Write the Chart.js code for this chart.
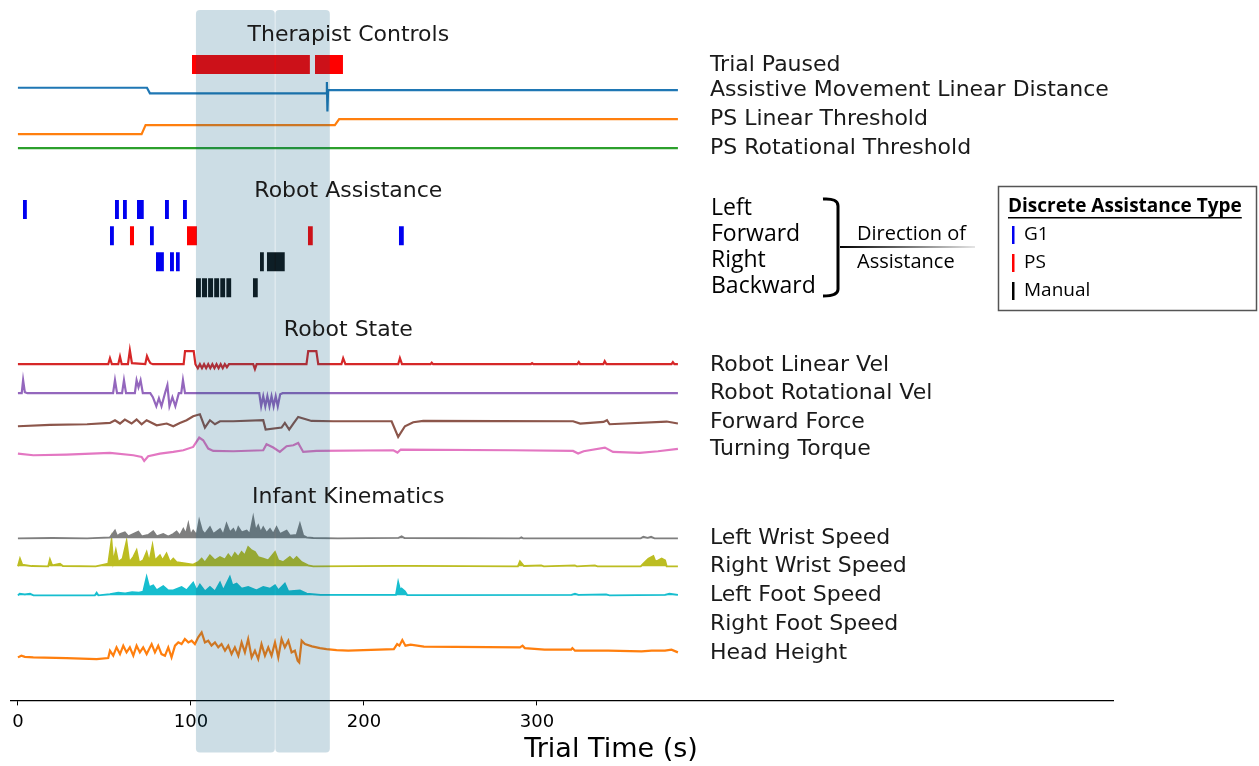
<!DOCTYPE html>
<html lang="en">
<head>
<meta charset="UTF-8" />
<title>Trial timeline</title>
<script src="https://cdn.jsdelivr.net/npm/chart.js"></script>
<style>
  body { margin: 0; background: #fff; }
</style>
</head>
<body>
<canvas id="chart" width="1259" height="766"></canvas>
<script>
// ---- data: [time (s), offset] ----
const tickVals = [0, 100, 200, 300];

// therapist controls
const pausedSpans = [[100.6, 168.8], [171.7, 187.9]];
const assistDist = [[0, 2.3], [74.6, 2.3], [76.3, -3.3], [178.3, -3.3], [178.6, 8], [178.9, -21.5], [179.3, 0], [381.5, 0]];
const psLinear = [[0, -9], [71.5, -9], [73.8, 0], [183.2, 0], [185.7, 6], [381.5, 6]];
const psRotational = [[0, 0], [381.5, 0]];

// robot assistance events: [start, end, direction]
const directions = ["Left", "Forward", "Right", "Backward"];
const g1Events = [[2.9, 5.2, 0], [56.1, 58.4, 0], [60.7, 63.0, 0], [68.8, 72.8, 0], [85.0, 87.3, 0], [95.4, 97.7, 0],
  [53.2, 55.5, 1], [76.3, 78.6, 1], [220.2, 223.1, 1],
  [79.8, 84.4, 2], [87.9, 90.2, 2], [91.3, 93.6, 2]];
const psEvents = [[64.7, 67.1, 1], [97.7, 103.5, 1], [167.6, 170.5, 1]];
const manualEvents = [[139.9, 142.2, 2], [143.9, 154.3, 2],
  [102.9, 105.8, 3], [106.3, 109.4, 3], [109.9, 112.9, 3], [113.4, 116.4, 3], [116.9, 119.9, 3], [120.4, 123.4, 3], [135.8, 138.7, 3]];

// robot state
const linVel = [[0, 0], [52.2, 0], [53.2, 6], [54.3, 0], [58, 0], [59, 7.5], [60, 0], [63.6, 0], [64.7, 14], [65.9, 1], [73.6, 0],
  [74.6, 8], [75.6, 4], [76.6, 1], [78, 0], [95.8, 0], [96.6, 13], [101.6, 13], [102.6, 0], [104, -4], [105.2, 0], [106.4, -4],
  [107.6, 0], [108.8, -4], [110, 0], [111.2, -4], [112.4, 0], [113.6, -4], [114.8, 0], [116, -4], [117.2, 0], [118.4, -4],
  [119.6, 0], [120.8, -3], [122, 0], [136, 0], [137, -5], [138, 0], [166.8, 0], [167.8, 13], [172.5, 13], [173.6, 0], [187, 0],
  [188, 6], [189.3, 0], [219.8, 0], [220.8, 6], [222, 0], [238.5, 0], [239.2, 1.5], [240, 0], [296.5, 0], [297.2, 1], [298, 0],
  [323.4, 0], [324.2, 2.2], [325, 0], [338.4, 0], [339.2, 3], [340.2, 0], [377.8, 0], [378.6, 2], [379.5, 0], [381.5, 0]];
const rotVel = [[0, 0], [2.2, 0], [3, 13], [4, 1], [5.5, 0], [55, 0], [56.1, 13], [57.3, 0], [60.2, 0], [61.3, 13], [62.5, 0],
  [67.6, 0], [68.6, 13], [69.7, 6], [70.9, 13], [72.2, 0], [76.5, 0], [78, -4], [80, -13], [81.5, -5], [83, -13], [85, 0],
  [86.4, 8], [87.6, -13], [89.3, -4], [91, -13], [93, 0], [94.4, 0], [95.4, 13], [96.6, 0], [139.5, 0], [140.6, -13],
  [141.8, -3], [143, -13], [144.2, -3], [145.4, -13], [146.6, -3], [147.8, -13], [149, -3], [150.2, -13], [151.6, -1],
  [153, 0], [381.5, 0]];
const fwdForce = [[0, -5], [18.5, -3.7], [40, -3], [53.2, -1.7], [56.1, 1], [59, -2.3], [61.8, 1.7], [65.7, -2.3], [68.6, 1.7],
  [71.5, -3], [74.4, 1], [80.2, -4], [86, -2.3], [89.8, -5], [93.6, -1.7], [97.5, 1], [101.3, 5], [105.2, 7], [108.1, -6.3],
  [111, 1], [113.9, -3], [116.8, 0], [124.5, 0], [141.8, 1], [143.2, -8.3], [152.4, -6.3], [154.3, -1.7], [156.8, -8.3],
  [159.2, -2.3], [162, 4.3], [166.9, 1.7], [169.7, 0.3], [182.3, 0], [216, 0], [219.8, -15.7], [223.7, -5], [228.5, -1],
  [234.3, 0.3], [320.9, 0], [325, -2.3], [338.5, -0.7], [340.5, 1], [342, -3], [375, -0.3], [381.5, -2.3]];
const torque = [[0, -3.3], [8.9, -5], [28, -4.3], [53.2, -2.7], [66.7, -5], [71.5, -6.7], [73, -10.7], [75.3, -6], [82.1, -3.3],
  [89.8, -1.7], [95.6, 0], [101.3, 3.3], [104.8, 12.7], [107.1, 10], [110, 1.7], [112.9, -0.7], [124.5, -1], [141.8, 0],
  [143.7, 6], [147.6, 2.7], [151.4, -1.7], [155.3, 4], [159.2, 5], [162, 7.3], [164.9, -1.7], [172.6, -0.7], [217, 0],
  [219.4, -2.3], [221.3, 0.7], [286, 0], [320.9, -0.7], [323.8, -3.3], [327, -1], [339.3, 2.7], [344, -1.7], [359.4, -2.7],
  [370, -1], [381.5, 1.3]];

// infant kinematics
const leftWrist = [[0, 0], [20, 0.3], [40, 0], [53.2, 1], [56.1, 7.7], [57.4, 2], [59, 4.3], [61.8, 6], [63.8, 2], [69.6, 6.7],
  [71.5, 2], [75.3, 3.3], [78.2, 7], [80.2, 2], [84, 4.3], [86.9, 1.7], [89.8, 4.3], [91.7, 6.7], [93.6, 2.7], [95.6, 9.3],
  [97.1, 4.3], [98.5, 14.3], [99.8, 3.3], [101.3, 7.7], [103.3, 3.3], [104.8, 17.7], [106.4, 7.7], [108.1, 4.3], [111, 11],
  [112.9, 4.3], [114.8, 6.7], [116.8, 9.3], [118.7, 3.3], [120.6, 14.3], [122.5, 6], [124.5, 9.3], [126, 4.3], [127.4, 11],
  [129.3, 6], [132.2, 7.7], [134.1, 4.3], [136, 21], [137.4, 7.7], [138.9, 12.7], [140.3, 6], [141.8, 11], [143.7, 5.3],
  [145.7, 9.3], [147.6, 4.3], [149.5, 11], [151.4, 4.3], [155.3, 7.7], [157.2, 2.7], [161.1, 3.3], [163, 14.3], [164.9, 2.7],
  [166.9, 1], [170.7, 0.3], [185, 0], [220, 0.5], [221.8, 2], [223.5, 0.3], [290, 0], [291, 1], [292, 0], [360, 0],
  [361.5, 1.5], [364, 0.5], [366, 1.5], [368, 0], [381.5, 0]];
const rightWrist = [[0, 0], [1.2, 7.7], [2.5, 1.7], [8, 0.3], [17.5, 0], [18.5, 7], [19.8, 1], [24.3, 2.7], [26, 0.3], [45, 0],
  [52.2, 2.7], [54.1, 26], [55.1, 4.3], [56.6, 16], [58, 4.3], [60.5, 7.7], [62.8, 25], [64.4, 4.3], [66.7, 9.3], [68.6, 16],
  [70.1, 3.7], [72.4, 6], [74.4, 14.3], [75.9, 4.3], [77.8, 21], [79.2, 6], [82.1, 11], [83.6, 6], [85.9, 12.7], [87.9, 4.3],
  [89.8, 7.7], [91.7, 4.3], [97.5, 2.7], [101.3, 1.7], [104.2, 4.3], [106.2, 7.7], [108.1, 3.7], [111, 11], [113.9, 6],
  [116.8, 9.3], [119.7, 6.7], [121.6, 11.7], [123.5, 7.7], [125.4, 13.3], [127.4, 9.3], [129.3, 14.3], [131.2, 11],
  [133.1, 19.3], [135.1, 16], [137, 14.3], [138.9, 9.3], [141.8, 7.7], [144.7, 6], [148.6, 14.3], [150.5, 6], [153.4, 4.3],
  [157.2, 9.3], [159.2, 6], [161.1, 9.3], [164, 4.3], [167.8, 1], [170.7, 0], [219, 0.5], [227, 0.5], [289, 0], [290.2, 5],
  [292.5, 0.3], [302.5, 1], [304, 0], [321.9, 1], [323, 0], [333.5, 1], [335, 0], [360, 0], [361.5, 2.7], [364.4, 7.7],
  [367.3, 10.3], [368.5, 5], [370.2, 6], [372.1, 7.7], [374.1, 6], [375, 0], [381.5, 0]];
const leftFoot = [[0, 0], [1, 1.7], [4, 1], [7, 1.7], [9, 0], [44.5, 0], [45.5, 2.7], [46.5, 0], [53.2, 1.3], [58, 2.7], [62, 2],
  [66, 3.3], [70, 2.7], [72.4, 3.7], [74.4, 18.3], [75.9, 8.3], [78.2, 10], [80.2, 5], [84, 9.3], [86.9, 5], [89.8, 5],
  [94.6, 8.3], [97.5, 5], [101.3, 12.7], [103.3, 5], [105.2, 10.7], [108.1, 4], [111, 8.3], [113.9, 4], [116.8, 12.7],
  [118.7, 5], [122.5, 18.3], [124, 10], [126.4, 11.7], [129.3, 6.7], [133.1, 8.3], [137.9, 5], [141.8, 8.3], [145.7, 6.7],
  [148.6, 10], [150.5, 5], [154.3, 11.7], [156.3, 4], [163, 5], [166.9, 1.7], [175, 0.5], [218.5, 0.5], [219.8, 13.3],
  [221, 5], [221.8, 6.7], [223.7, 4], [225, 0.3], [320, 0.5], [322, 1.7], [324, 0.5], [340, 1], [342, 0], [374, 0.5],
  [376.6, 1.7], [381.5, 0.5]];
const headHeight = [[0, 0], [2, 1.7], [4, 0.5], [8.9, 0], [28.1, -0.7], [45.5, -1.7], [52.2, -0.7], [53.2, 6.7], [55.1, 1.7],
  [57, 10], [59, 3.3], [60.9, 11.7], [62.8, 5], [64.7, 10], [66.7, 1.7], [68.6, 11.7], [70.5, 5], [72.4, 10], [74.4, 3.3],
  [77.3, 13.3], [79.2, 5], [81.1, 11.7], [83, 3.3], [85, 1.7], [86.9, 10], [88.8, 0], [90.8, 11.7], [92.7, 15], [94.6, 13.3],
  [96.5, 18.3], [98.5, 15], [100.4, 16.7], [102.3, 13.3], [104.2, 20], [106.2, 25], [108.1, 15], [110, 16.7], [111.9, 11.7],
  [113.9, 15], [115.8, 10], [117.7, 13.3], [119.7, 6.7], [121.6, 11.7], [123.5, 3.3], [125.4, 10], [127.4, 1.7], [129.3, 15],
  [131.2, 5], [133.1, 18.3], [135.1, 0], [137, 6.7], [138.9, -1.7], [140.8, 13.3], [142.8, 1.7], [144.7, 10], [146.6, 1.7],
  [148.6, 15], [150.5, 0], [152.4, 18.3], [154.3, 10], [156.3, 16.7], [158.2, 5], [160.1, 6.7], [161.7, -3.3], [162.6, -5],
  [164, 16.7], [165.9, 13.3], [170, 11], [174.6, 9.3], [178.4, 8.3], [184.2, 7.3], [190.9, 6.7], [217.3, 8.3], [219.2, 13.3],
  [220.5, 11.7], [222.2, 17.3], [224, 11.7], [227, 12.7], [234.7, 10.7], [290.2, 10], [291.7, 11.7], [293, 9.3], [304.4, 7.7],
  [319.8, 7.7], [320.5, 9.3], [322, 6.7], [341.2, 6.7], [360.5, 6], [366.3, 6.7], [374, 6.7], [377.8, 7.7], [381.5, 5]];

// video segment shading (s)
const shadeSpans = [[102.9, 148.5], [148.8, 180.3]];

// ---- layout (y axis runs in rows from the top) ----
const traces = [
  { data: assistDist, base: 90, color: "#1f77b4", label: "Assistive Movement Linear Distance", labelY: 90 },
  { data: psLinear, base: 125, color: "#ff7f0e", label: "PS Linear Threshold", labelY: 119 },
  { data: psRotational, base: 148, color: "#2ca02c", label: "PS Rotational Threshold", labelY: 148 },
  { data: linVel, base: 364, color: "#d62728", label: "Robot Linear Vel", labelY: 365 },
  { data: rotVel, base: 393, color: "#9467bd", label: "Robot Rotational Vel", labelY: 393 },
  { data: fwdForce, base: 421, color: "#8c564b", label: "Forward Force", labelY: 422 },
  { data: torque, base: 450, color: "#e377c2", label: "Turning Torque", labelY: 449 },
  { data: leftWrist, base: 538, color: "#7f7f7f", fill: true, label: "Left Wrist Speed", labelY: 538 },
  { data: rightWrist, base: 566, color: "#bcbd22", fill: true, label: "Right Wrist Speed", labelY: 566 },
  { data: leftFoot, base: 595, color: "#17becf", fill: true, label: "Left Foot Speed", labelY: 595 },
  { data: headHeight, base: 657, color: "#ff7f0e", label: "Head Height", labelY: 653 }
];
const extraLabels = [["Trial Paused", 65], ["Right Foot Speed", 624]];
const sections = [["Therapist Controls", 35], ["Robot Assistance", 191], ["Robot State", 330], ["Infant Kinematics", 497]];
const rowTop = [200, 226, 252, 278];
const rowH = 19;
const eventColors = { g1: "#0000f0", ps: "#ff0000", manual: "#111111" };

function rect(s, e, top, bottom, color) {
  return {
    data: [{ x: s, y: top }, { x: e, y: top }],
    borderWidth: 0, pointRadius: 0, backgroundColor: color,
    fill: { value: bottom }
  };
}

const datasets = [];
pausedSpans.forEach(([s, e]) => datasets.push(rect(s, e, 55, 74, "#ff0000")));
[[g1Events, eventColors.g1], [psEvents, eventColors.ps], [manualEvents, eventColors.manual]].forEach(([list, c]) => {
  list.forEach(([s, e, d]) => datasets.push(rect(s, e, rowTop[d], rowTop[d] + rowH, c)));
});
traces.forEach((tr) => {
  datasets.push({
    data: tr.data.map(([t, v]) => ({ x: t, y: tr.base - v })),
    borderColor: tr.color,
    borderWidth: tr.fill ? 1.8 : 2.2,
    backgroundColor: tr.color,
    pointRadius: 0,
    tension: 0,
    fill: tr.fill ? { value: tr.base } : false
  });
});

const overlay = {
  id: "overlay",
  afterDatasetsDraw(chart) {
    const { ctx, chartArea, scales: { x } } = chart;
    ctx.save();
    ctx.fillStyle = "rgba(0,85,125,0.2)";
    shadeSpans.forEach(([a, b]) => {
      const l = x.getPixelForValue(a), r = x.getPixelForValue(b);
      ctx.beginPath();
      ctx.roundRect(l, chartArea.top, r - l, chartArea.bottom - chartArea.top + 52, 4);
      ctx.fill();
    });
    ctx.restore();
  },
  afterDraw(chart) {
    const { ctx, scales: { x, y } } = chart;
    ctx.save();
    ctx.fillStyle = "#1a1a1a";
    ctx.textBaseline = "middle";
    ctx.font = '22px "DejaVu Sans"';
    ctx.textAlign = "center";
    sections.forEach(([txt, py]) => ctx.fillText(txt, x.getPixelForValue(191), y.getPixelForValue(py)));
    ctx.textAlign = "left";
    const lx = x.getPixelForValue(400);
    traces.forEach((tr) => ctx.fillText(tr.label, lx, y.getPixelForValue(tr.labelY)));
    extraLabels.forEach(([txt, py]) => ctx.fillText(txt, lx, y.getPixelForValue(py)));

    // axis title
    ctx.fillStyle = "#000";
    ctx.textAlign = "center";
    ctx.font = '27px "DejaVu Sans"';
    ctx.fillText("Trial Time (s)", 611, 750);

    // direction labels + bracket
    ctx.textAlign = "left";
    ctx.font = '23px "Open Sans"';
    directions.forEach((d, i) => ctx.fillText(d, 711, rowTop[i] + rowH / 2 - 1));
    ctx.font = '20px "Open Sans"';
    ctx.fillText("Direction of", 857, 234);
    ctx.fillText("Assistance", 857, 262);
    ctx.strokeStyle = "#000";
    ctx.lineWidth = 3;
    ctx.beginPath();
    ctx.moveTo(823, 199);
    ctx.quadraticCurveTo(838, 198, 838, 206);
    ctx.lineTo(838, 289);
    ctx.quadraticCurveTo(838, 296, 823, 296);
    ctx.stroke();
    const g = ctx.createLinearGradient(840, 0, 975, 0);
    g.addColorStop(0, "#000");
    g.addColorStop(1, "rgba(0,0,0,0.1)");
    ctx.strokeStyle = g;
    ctx.lineWidth = 2;
    ctx.beginPath();
    ctx.moveTo(840, 247);
    ctx.lineTo(975, 247);
    ctx.stroke();

    // legend box
    ctx.strokeStyle = "#555";
    ctx.lineWidth = 1.5;
    ctx.strokeRect(998.5, 186.5, 258, 124);
    ctx.fillStyle = "#000";
    ctx.font = 'bold 19px "Open Sans"';
    ctx.fillText("Discrete Assistance Type", 1008, 207);
    const w = ctx.measureText("Discrete Assistance Type").width;
    ctx.fillRect(1008, 217, w, 1.5);
    ctx.font = '19px "Open Sans"';
    [["G1", eventColors.g1, 235], ["PS", eventColors.ps, 263], ["Manual", "#000", 291]].forEach(([txt, c, py]) => {
      ctx.fillStyle = c;
      ctx.fillRect(1012, py - 9, 2.5, 18);
      ctx.fillStyle = "#000";
      ctx.fillText(txt, 1024, py);
    });
    ctx.restore();
  }
};

new Chart(document.getElementById("chart"), {
  type: "line",
  data: { datasets },
  options: {
    responsive: false,
    animation: false,
    layout: { padding: { left: 11, right: 146, top: 10, bottom: 27 } },
    plugins: { legend: { display: false }, tooltip: { enabled: false } },
    scales: {
      x: {
        type: "linear",
        min: -4,
        max: 633,
        afterBuildTicks: (s) => { s.ticks = tickVals.map((v) => ({ value: v })); },
        ticks: { color: "#000", font: { family: "DejaVu Sans", size: 18 }, padding: 6, maxRotation: 0 },
        grid: { drawOnChartArea: false, drawTicks: true, tickLength: 5, color: "#000" },
        border: { display: true, color: "#000", width: 1.2 }
      },
      y: { display: false, reverse: true, min: 10, max: 700 }
    }
  },
  plugins: [overlay]
});
</script>
</body>
</html>
